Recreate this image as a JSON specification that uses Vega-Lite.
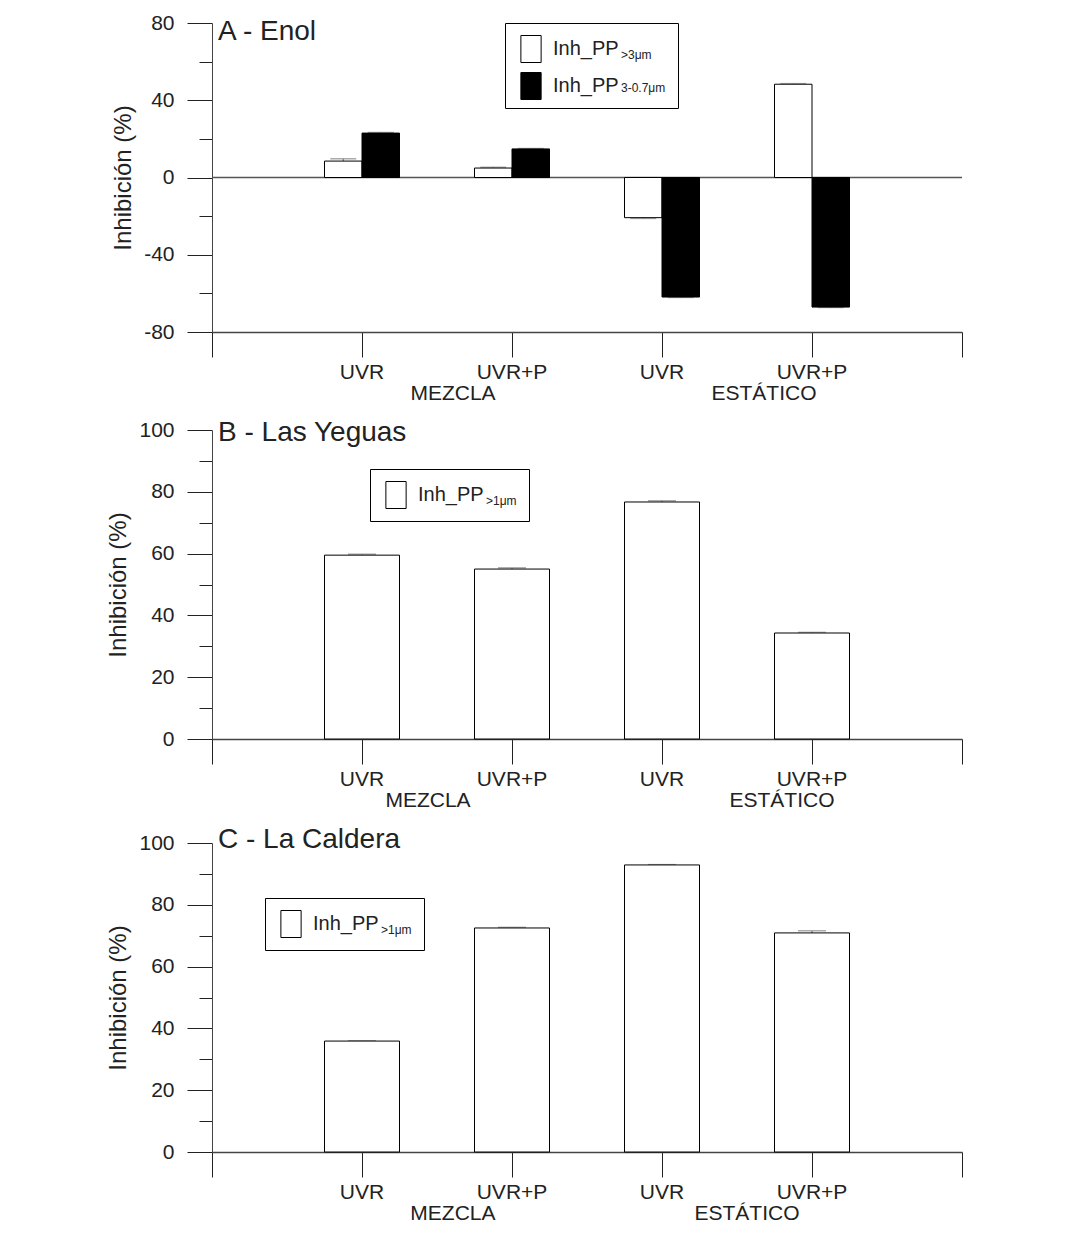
{
  "$schema": "https://vega.github.io/schema/vega-lite/v6.json",
  "padding": {"left": 106, "top": 12, "right": 5, "bottom": 5},
  "spacing": 16,
  "resolve": {"scale": {"fill": "independent", "strokeDash": "independent"}, "legend": {"fill": "independent", "strokeDash": "independent"}},
  "config": {
    "font": "Liberation Sans",
    "view": {"stroke": null},
    "axis": {"grid": false, "labelFontSize": 21, "labelColor": "#222", "domainColor": "#444", "tickColor": "#222", "titleFontWeight": "normal", "titleColor": "#222", "titleFontSize": 24, "labelFont": "Liberation Sans", "titleFont": "Liberation Sans"},
    "legend": {"labelFont": "Liberation Sans", "labelColor": "#222"},
    "text": {"font": "Liberation Sans", "color": "#222"}
  },
  "vconcat": [
    {
      "width": 750, "height": 309,
      "data": {"values": [
        {"cat": "M|UVR", "series": "s1", "sub": ">3μm", "value": 8.5, "cap": 9.7},
        {"cat": "M|UVR", "series": "s2", "sub": "3-0.7μm", "value": 23.0, "cap": 23.3},
        {"cat": "M|UVR+P", "series": "s1", "sub": ">3μm", "value": 4.9, "cap": 5.3},
        {"cat": "M|UVR+P", "series": "s2", "sub": "3-0.7μm", "value": 14.8, "cap": 15.0},
        {"cat": "E|UVR", "series": "s1", "sub": ">3μm", "value": -20.8, "cap": -21.2},
        {"cat": "E|UVR", "series": "s2", "sub": "3-0.7μm", "value": -61.9, "cap": -62.1},
        {"cat": "E|UVR+P", "series": "s1", "sub": ">3μm", "value": 48.3, "cap": 48.6},
        {"cat": "E|UVR+P", "series": "s2", "sub": "3-0.7μm", "value": -67.1, "cap": -67.3}
      ]},
      "resolve": {"scale": {"x": "independent", "y": "independent", "xOffset": "independent"}},
      "layer": [
        {
          "data": {"values": [{"z": 0}]},
          "mark": {"type": "rule", "color": "#555", "strokeWidth": 1.5},
          "encoding": {"y": {"field": "z", "type": "quantitative", "scale": {"domain": [-80, 80], "nice": false}, "axis": null}}
        },
        {
          "mark": {"type": "rule", "color": "#777", "strokeWidth": 1.2},
          "encoding": {
            "x": {"field": "cat", "type": "nominal", "axis": null,
              "scale": {"type": "band", "domain": ["M|UVR", "M|UVR+P", "E|UVR", "E|UVR+P"], "paddingInner": 0.5, "paddingOuter": 0.75}},
            "xOffset": {"field": "series", "type": "nominal", "scale": {"domain": ["s1", "s2"], "paddingInner": 0, "paddingOuter": 0}},
            "y": {"field": "value", "type": "quantitative", "scale": {"domain": [-80, 80], "nice": false},
              "axis": {"orient": "left", "values": [-60, -20, 20, 60], "labels": false, "domain": false, "tickSize": 13, "title": null}},
            "y2": {"field": "cap"}
          }
        },
        {
          "mark": {"type": "tick", "color": "#888", "thickness": 1.5, "size": 26},
          "encoding": {
            "x": {"field": "cat", "type": "nominal", "axis": null,
              "scale": {"type": "band", "domain": ["M|UVR", "M|UVR+P", "E|UVR", "E|UVR+P"], "paddingInner": 0.5, "paddingOuter": 0.75}},
            "xOffset": {"field": "series", "type": "nominal", "scale": {"domain": ["s1", "s2"], "paddingInner": 0, "paddingOuter": 0}},
            "y": {"field": "cap", "type": "quantitative", "scale": {"domain": [-80, 80], "nice": false}, "axis": null},
            "strokeDash": {"field": "sub", "type": "nominal", "scale": {"domain": [">3μm", "3-0.7μm"], "range": [[1, 0], [1, 0]]},
              "legend": {"orient": "none", "legendX": 293, "legendY": 0, "zindex": 1, "title": null, "symbolType": "M-0.75,-1H0.75V1H-0.75Z", "symbolSize": 729, "symbolOpacity": 0, "labelFontSize": 12, "labelOffset": 75, "rowPadding": 5, "padding": 12, "labelBaseline": "top", "fillColor": "white", "strokeColor": "black"}}
          }
        },
        {
          "mark": {"type": "bar", "stroke": "black", "strokeWidth": 1},
          "encoding": {
            "x": {"field": "cat", "type": "nominal",
              "scale": {"type": "band", "domain": ["M|UVR", "M|UVR+P", "E|UVR", "E|UVR+P"], "paddingInner": 0.5, "paddingOuter": 0.75},
              "axis": {"orient": "bottom", "title": null, "labelExpr": "split(datum.label, '|')[1]", "labelAngle": 0, "tickSize": 25, "labelPadding": 4, "domainWidth": 1.5}},
            "xOffset": {"field": "series", "type": "nominal", "scale": {"domain": ["s1", "s2"], "paddingInner": 0, "paddingOuter": 0}},
            "y": {"field": "value", "type": "quantitative", "scale": {"domain": [-80, 80], "nice": false},
              "axis": {"orient": "left", "title": "Inhibición (%)", "titlePadding": 8, "values": [-80, -40, 0, 40, 80], "labelExpr": "'' + datum.value", "tickSize": 25, "labelPadding": 13}},
            "fill": {"field": "series", "type": "nominal", "scale": {"domain": ["s1", "s2"], "range": ["white", "black"]},
              "legend": {"orient": "none", "legendX": 293, "legendY": 0, "zindex": 2, "title": null, "labelExpr": "'Inh_PP'",
                "symbolType": "M-0.75,-1H0.75V1H-0.75Z", "symbolSize": 729, "symbolStrokeColor": "black", "symbolStrokeWidth": 1,
                "labelFontSize": 20, "labelOffset": 8, "rowPadding": 5, "padding": 12}}
          }
        },
        {
          "data": {"values": [{"grp": "MEZCLA"}, {"grp": "ESTÁTICO"}]},
          "mark": {"type": "text", "text": ""},
          "encoding": {
            "x": {"field": "grp", "type": "nominal",
              "scale": {"type": "band", "domain": ["MEZCLA", "ESTÁTICO"], "paddingInner": 0, "paddingOuter": 0.2058, "align": 0.668},
              "axis": {"orient": "bottom", "title": null, "ticks": false, "tickSize": 0, "domain": false, "labelPadding": 50, "labelAngle": 0}},
            "y": {"datum": 0, "type": "quantitative", "scale": {"domain": [-80, 80], "nice": false}, "axis": null}
          }
        },
        {
          "data": {"values": [{"e": 0}, {"e": 1}]},
          "mark": {"type": "text", "text": ""},
          "encoding": {
            "x": {"field": "e", "type": "quantitative", "scale": {"domain": [0, 1], "nice": false, "zero": false},
              "axis": {"orient": "bottom", "title": null, "values": [0, 1], "labels": false, "domain": false, "tickSize": 25}},
            "y": {"datum": 0, "type": "quantitative", "scale": {"domain": [-80, 80], "nice": false}, "axis": null}
          }
        },
        {
          "data": {"values": [{"t": "A - Enol", "px": 0, "py": 80}]},
          "mark": {"type": "text", "align": "left", "baseline": "alphabetic", "dx": 6, "dy": 17, "fontSize": 28},
          "encoding": {
            "text": {"field": "t"},
            "x": {"field": "px", "type": "quantitative", "scale": {"domain": [0, 1], "nice": false, "zero": false}, "axis": null},
            "y": {"field": "py", "type": "quantitative", "scale": {"domain": [-80, 80], "nice": false}, "axis": null}
          }
        }
      ]
    },
    {
      "width": 750, "height": 309,
      "data": {"values": [
        {"cat": "M|UVR", "series": "s1", "sub": ">1μm", "value": 59.5, "cap": 59.8},
        {"cat": "M|UVR+P", "series": "s1", "sub": ">1μm", "value": 55.0, "cap": 55.4},
        {"cat": "E|UVR", "series": "s1", "sub": ">1μm", "value": 76.7, "cap": 77.1},
        {"cat": "E|UVR+P", "series": "s1", "sub": ">1μm", "value": 34.3, "cap": 34.5}
      ]},
      "resolve": {"scale": {"x": "independent", "y": "independent"}},
      "layer": [
        {
          "mark": {"type": "rule", "color": "#777", "strokeWidth": 1.2},
          "encoding": {
            "x": {"field": "cat", "type": "nominal", "axis": null,
              "scale": {"type": "band", "domain": ["M|UVR", "M|UVR+P", "E|UVR", "E|UVR+P"], "paddingInner": 0.5, "paddingOuter": 0.75}},
            "y": {"field": "value", "type": "quantitative", "scale": {"domain": [0, 100], "nice": false},
              "axis": {"orient": "left", "values": [10, 30, 50, 70, 90], "labels": false, "domain": false, "tickSize": 13, "title": null}},
            "y2": {"field": "cap"}
          }
        },
        {
          "mark": {"type": "tick", "color": "#888", "thickness": 1.5, "size": 28},
          "encoding": {
            "x": {"field": "cat", "type": "nominal", "axis": null,
              "scale": {"type": "band", "domain": ["M|UVR", "M|UVR+P", "E|UVR", "E|UVR+P"], "paddingInner": 0.5, "paddingOuter": 0.75}},
            "y": {"field": "cap", "type": "quantitative", "scale": {"domain": [0, 100], "nice": false}, "axis": null},
            "strokeDash": {"field": "sub", "type": "nominal", "scale": {"domain": [">1μm"], "range": [[1, 0]]},
              "legend": {"orient": "none", "legendX": 158, "legendY": 39, "zindex": 1, "title": null, "symbolType": "M-0.75,-1H0.75V1H-0.75Z", "symbolSize": 729, "symbolOpacity": 0, "labelFontSize": 12, "labelOffset": 75, "rowPadding": 5, "padding": 12, "labelBaseline": "top", "fillColor": "white", "strokeColor": "black"}}
          }
        },
        {
          "mark": {"type": "bar", "stroke": "black", "strokeWidth": 1},
          "encoding": {
            "x": {"field": "cat", "type": "nominal",
              "scale": {"type": "band", "domain": ["M|UVR", "M|UVR+P", "E|UVR", "E|UVR+P"], "paddingInner": 0.5, "paddingOuter": 0.75},
              "axis": {"orient": "bottom", "title": null, "labelExpr": "split(datum.label, '|')[1]", "labelAngle": 0, "tickSize": 25, "labelPadding": 4, "domainWidth": 1.5}},
            "y": {"field": "value", "type": "quantitative", "scale": {"domain": [0, 100], "nice": false},
              "axis": {"orient": "left", "title": "Inhibición (%)", "titlePadding": 8, "values": [0, 20, 40, 60, 80, 100], "labelExpr": "'' + datum.value", "tickSize": 25, "labelPadding": 13}},
            "fill": {"field": "series", "type": "nominal", "scale": {"domain": ["s1"], "range": ["white"]},
              "legend": {"orient": "none", "legendX": 158, "legendY": 39, "zindex": 2, "title": null, "labelExpr": "'Inh_PP'",
                "symbolType": "M-0.75,-1H0.75V1H-0.75Z", "symbolSize": 729, "symbolStrokeColor": "black", "symbolStrokeWidth": 1,
                "labelFontSize": 20, "labelOffset": 8, "rowPadding": 5, "padding": 12}}
          }
        },
        {
          "data": {"values": [{"grp": "MEZCLA"}, {"grp": "ESTÁTICO"}]},
          "mark": {"type": "text", "text": ""},
          "encoding": {
            "x": {"field": "grp", "type": "nominal",
              "scale": {"type": "band", "domain": ["MEZCLA", "ESTÁTICO"], "paddingInner": 0, "paddingOuter": 0.0593, "align": 0.929},
              "axis": {"orient": "bottom", "title": null, "ticks": false, "tickSize": 0, "domain": false, "labelPadding": 50, "labelAngle": 0}},
            "y": {"datum": 0, "type": "quantitative", "scale": {"domain": [0, 100], "nice": false}, "axis": null}
          }
        },
        {
          "data": {"values": [{"e": 0}, {"e": 1}]},
          "mark": {"type": "text", "text": ""},
          "encoding": {
            "x": {"field": "e", "type": "quantitative", "scale": {"domain": [0, 1], "nice": false, "zero": false},
              "axis": {"orient": "bottom", "title": null, "values": [0, 1], "labels": false, "domain": false, "tickSize": 25}},
            "y": {"datum": 0, "type": "quantitative", "scale": {"domain": [0, 100], "nice": false}, "axis": null}
          }
        },
        {
          "data": {"values": [{"t": "B - Las Yeguas", "px": 0, "py": 100}]},
          "mark": {"type": "text", "align": "left", "baseline": "alphabetic", "dx": 6, "dy": 11, "fontSize": 28},
          "encoding": {
            "text": {"field": "t"},
            "x": {"field": "px", "type": "quantitative", "scale": {"domain": [0, 1], "nice": false, "zero": false}, "axis": null},
            "y": {"field": "py", "type": "quantitative", "scale": {"domain": [0, 100], "nice": false}, "axis": null}
          }
        }
      ]
    },
    {
      "width": 750, "height": 309,
      "data": {"values": [
        {"cat": "M|UVR", "series": "s1", "sub": ">1μm", "value": 35.9, "cap": 36.0},
        {"cat": "M|UVR+P", "series": "s1", "sub": ">1μm", "value": 72.5, "cap": 72.7},
        {"cat": "E|UVR", "series": "s1", "sub": ">1μm", "value": 92.9, "cap": 93.0},
        {"cat": "E|UVR+P", "series": "s1", "sub": ">1μm", "value": 70.9, "cap": 71.6}
      ]},
      "resolve": {"scale": {"x": "independent", "y": "independent"}},
      "layer": [
        {
          "mark": {"type": "rule", "color": "#777", "strokeWidth": 1.2},
          "encoding": {
            "x": {"field": "cat", "type": "nominal", "axis": null,
              "scale": {"type": "band", "domain": ["M|UVR", "M|UVR+P", "E|UVR", "E|UVR+P"], "paddingInner": 0.5, "paddingOuter": 0.75}},
            "y": {"field": "value", "type": "quantitative", "scale": {"domain": [0, 100], "nice": false},
              "axis": {"orient": "left", "values": [10, 30, 50, 70, 90], "labels": false, "domain": false, "tickSize": 13, "title": null}},
            "y2": {"field": "cap"}
          }
        },
        {
          "mark": {"type": "tick", "color": "#888", "thickness": 1.5, "size": 28},
          "encoding": {
            "x": {"field": "cat", "type": "nominal", "axis": null,
              "scale": {"type": "band", "domain": ["M|UVR", "M|UVR+P", "E|UVR", "E|UVR+P"], "paddingInner": 0.5, "paddingOuter": 0.75}},
            "y": {"field": "cap", "type": "quantitative", "scale": {"domain": [0, 100], "nice": false}, "axis": null},
            "strokeDash": {"field": "sub", "type": "nominal", "scale": {"domain": [">1μm"], "range": [[1, 0]]},
              "legend": {"orient": "none", "legendX": 53, "legendY": 55, "zindex": 1, "title": null, "symbolType": "M-0.75,-1H0.75V1H-0.75Z", "symbolSize": 729, "symbolOpacity": 0, "labelFontSize": 12, "labelOffset": 75, "rowPadding": 5, "padding": 12, "labelBaseline": "top", "fillColor": "white", "strokeColor": "black"}}
          }
        },
        {
          "mark": {"type": "bar", "stroke": "black", "strokeWidth": 1},
          "encoding": {
            "x": {"field": "cat", "type": "nominal",
              "scale": {"type": "band", "domain": ["M|UVR", "M|UVR+P", "E|UVR", "E|UVR+P"], "paddingInner": 0.5, "paddingOuter": 0.75},
              "axis": {"orient": "bottom", "title": null, "labelExpr": "split(datum.label, '|')[1]", "labelAngle": 0, "tickSize": 25, "labelPadding": 4, "domainWidth": 1.5}},
            "y": {"field": "value", "type": "quantitative", "scale": {"domain": [0, 100], "nice": false},
              "axis": {"orient": "left", "title": "Inhibición (%)", "titlePadding": 8, "values": [0, 20, 40, 60, 80, 100], "labelExpr": "'' + datum.value", "tickSize": 25, "labelPadding": 13}},
            "fill": {"field": "series", "type": "nominal", "scale": {"domain": ["s1"], "range": ["white"]},
              "legend": {"orient": "none", "legendX": 53, "legendY": 55, "zindex": 2, "title": null, "labelExpr": "'Inh_PP'",
                "symbolType": "M-0.75,-1H0.75V1H-0.75Z", "symbolSize": 729, "symbolStrokeColor": "black", "symbolStrokeWidth": 1,
                "labelFontSize": 20, "labelOffset": 8, "rowPadding": 5, "padding": 12}}
          }
        },
        {
          "data": {"values": [{"grp": "MEZCLA"}, {"grp": "ESTÁTICO"}]},
          "mark": {"type": "text", "text": ""},
          "encoding": {
            "x": {"field": "grp", "type": "nominal",
              "scale": {"type": "band", "domain": ["MEZCLA", "ESTÁTICO"], "paddingInner": 0, "paddingOuter": 0.2755, "align": 0.58},
              "axis": {"orient": "bottom", "title": null, "ticks": false, "tickSize": 0, "domain": false, "labelPadding": 50, "labelAngle": 0}},
            "y": {"datum": 0, "type": "quantitative", "scale": {"domain": [0, 100], "nice": false}, "axis": null}
          }
        },
        {
          "data": {"values": [{"e": 0}, {"e": 1}]},
          "mark": {"type": "text", "text": ""},
          "encoding": {
            "x": {"field": "e", "type": "quantitative", "scale": {"domain": [0, 1], "nice": false, "zero": false},
              "axis": {"orient": "bottom", "title": null, "values": [0, 1], "labels": false, "domain": false, "tickSize": 25}},
            "y": {"datum": 0, "type": "quantitative", "scale": {"domain": [0, 100], "nice": false}, "axis": null}
          }
        },
        {
          "data": {"values": [{"t": "C - La Caldera", "px": 0, "py": 100}]},
          "mark": {"type": "text", "align": "left", "baseline": "alphabetic", "dx": 6, "dy": 5, "fontSize": 28},
          "encoding": {
            "text": {"field": "t"},
            "x": {"field": "px", "type": "quantitative", "scale": {"domain": [0, 1], "nice": false, "zero": false}, "axis": null},
            "y": {"field": "py", "type": "quantitative", "scale": {"domain": [0, 100], "nice": false}, "axis": null}
          }
        }
      ]
    }
  ]
}
